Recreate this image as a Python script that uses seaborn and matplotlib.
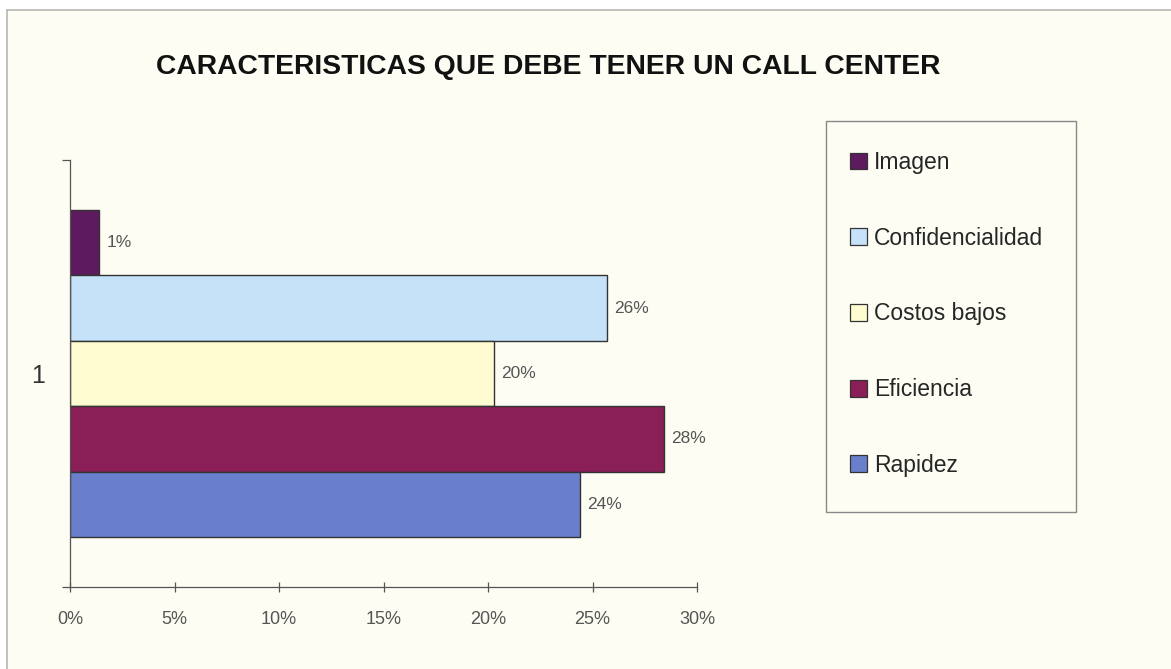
import matplotlib
matplotlib.use("Agg")
import matplotlib.pyplot as plt
from matplotlib.patches import Rectangle
from matplotlib.ticker import FuncFormatter, FixedLocator
import seaborn as sns
import pandas as pd

# Survey results: share of respondents per characteristic (percent)
caracteristicas = ["Imagen", "Confidencialidad", "Costos bajos", "Eficiencia", "Rapidez"]
porcentajes = [1.4, 25.7, 20.3, 28.4, 24.4]
grupo = ["1"] * len(caracteristicas)
colores = ["#5E1A5E", "#C5E2F8", "#FFFCD2", "#8A1E57", "#6A7FCC"]
ticks_x = [0, 5, 10, 15, 20, 25, 30]
titulo = "CARACTERISTICAS QUE DEBE TENER UN CALL CENTER"

df = pd.DataFrame({"grupo": grupo, "caracteristica": caracteristicas, "valor": porcentajes})

sns.set_theme(style="white")
plt.rcParams["font.family"] = ["Liberation Sans", "DejaVu Sans"]

fondo = "#FDFDF4"
fig = plt.figure(figsize=(11.71, 6.69), dpi=100)
fig.patch.set_facecolor("white")

W, H = 1171, 669
def fx(px):
    return px / W
def fy(py):
    return 1 - py / H

# cream chart area with its left and top border
fig.patches.append(Rectangle((fx(7), 0), 1 - fx(7), fy(10), transform=fig.transFigure,
                             facecolor=fondo, edgecolor="none", zorder=-5))
fig.add_artist(plt.Line2D([fx(7), fx(7)], [0, fy(10)], transform=fig.transFigure,
                          color="#B8B8B0", lw=1.2, zorder=-4))
fig.add_artist(plt.Line2D([fx(7), 1], [fy(10), fy(10)], transform=fig.transFigure,
                          color="#B8B8B0", lw=1.2, zorder=-4))

ax = fig.add_axes([fx(70), fy(587), fx(697) - fx(70), fy(160) - fy(587)])
ax.set_facecolor("none")
ax.set_zorder(2)

sns.barplot(data=df, x="valor", y="grupo", hue="caracteristica", hue_order=caracteristicas,
            palette=colores, orient="h", width=0.766, dodge=True, ax=ax,
            edgecolor="#333333", linewidth=1.0, saturation=1, legend=False, errorbar=None)

ax.set_xlim(0, 30)
ax.set_ylim(0.5, -0.5)
ax.set_xlabel("")
ax.set_ylabel("")

# value labels at the end of each bar
for cont in ax.containers:
    for bar in cont:
        v = bar.get_width()
        ax.text(v + 0.35, bar.get_y() + bar.get_height() / 2, f"{round(v):.0f}%",
                va="center", ha="left", fontsize=12.5, color="#555555")

ax.xaxis.set_major_locator(FixedLocator(ticks_x))
ax.xaxis.set_major_formatter(FuncFormatter(lambda v, p: f"{v:.0f}%"))
ax.tick_params(axis="x", which="major", direction="inout", length=7, width=0.9,
               color="#555555", labelsize=13, labelcolor="#555555", pad=14, bottom=True)
ax.set_yticks([0])
ax.set_yticklabels(["1"])
ax.tick_params(axis="y", which="major", length=0, labelsize=18, labelcolor="#333333", pad=18)
ax.yaxis.set_minor_locator(FixedLocator([-0.5, 0.5]))
ax.tick_params(axis="y", which="minor", direction="out", length=6, width=0.9,
               color="#555555", left=True)

for s in ["top", "right"]:
    ax.spines[s].set_visible(False)
for s in ["left", "bottom"]:
    ax.spines[s].set_color("#555555")
    ax.spines[s].set_linewidth(0.9)

fig.text(fx(548), fy(67), titulo, ha="center", va="center", fontsize=20.3,
         fontweight="bold", color="#111111")

# legend box
fig.patches.append(Rectangle((fx(826), fy(512)), fx(1076) - fx(826), fy(121) - fy(512),
                             transform=fig.transFigure, facecolor="none",
                             edgecolor="#888888", lw=1.0, zorder=1))
handles = [Rectangle((0, 0), 1, 1, facecolor=c, edgecolor="#333333", lw=0.9) for c in colores]
fig.legend(handles, caracteristicas, loc="upper left",
           bbox_to_anchor=(fx(850), fy(151)), frameon=False, fontsize=16.5,
           handlelength=0.75, handleheight=0.75, handletextpad=0.3,
           labelspacing=2.3, borderaxespad=0, borderpad=0)

fig.savefig("out.png", dpi=100, facecolor=fig.get_facecolor())
